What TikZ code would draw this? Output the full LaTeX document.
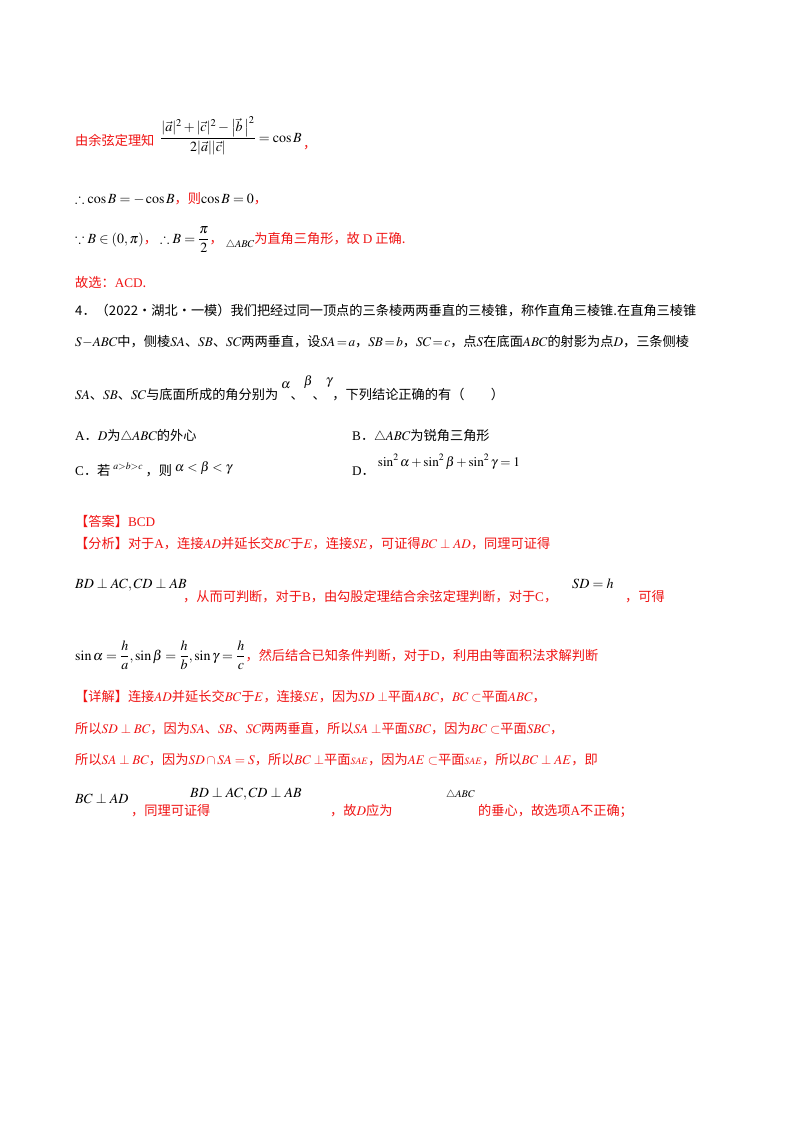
\documentclass[tikz,border=0pt]{standalone}
\usepackage{amsmath,amssymb}
\usepackage{mathptmx}
\usepackage[no-math]{fontspec}
\setmainfont{Noto Sans CJK SC}
\newfontfamily\tm{Liberation Serif}
\definecolor{rd}{RGB}{240,20,20}
\begin{document}
\begin{tikzpicture}[x=1pt,y=-1pt,
  t/.style={anchor=base west,inner sep=0pt,font=\fontsize{13.2}{16}\selectfont},
  r/.style={t,text=rd},
  s/.style={anchor=base west,inner sep=0pt,font=\fontsize{14}{17}\selectfont}]
\useasboundingbox[fill=white] (0,0) rectangle (800,1132);
\node[r] (l1) at (75,145) {由余弦定理知};
\node[s] (f1) at (160,142) {$\dfrac{|\vec a|^{2}+|\vec c|^{2}-\bigl|\vec b\,\bigr|^{2}}{2|\vec a||\vec c|}=\cos B$};
\node[r] (c1) at (303,148) {，};
\node[s] (l2) at (75,203) {$\therefore\cos B=-\cos B${\color{rd}\fontsize{13.2}{16}\selectfont，则}$\cos B=0${\color{rd}\fontsize{13.2}{16}\selectfont，}};
\node[s] (l3) at (75,243) {$\because B\in(0,\pi)${\color{rd}\fontsize{13.2}{16}\selectfont，}\ $\therefore B=\dfrac{\pi}{2}${\color{rd}\fontsize{13.2}{16}\selectfont，}\ \raisebox{-4pt}{$\scriptstyle\triangle ABC$}{\color{rd}\fontsize{13.2}{16}\selectfont 为直角三角形，故 {\tm D} 正确.}};
\node[r] (l4) at (75,287) {故选：{\tm ACD}.};
\node[t] (q1) at (75,315) {4．（2022·湖北·一模）我们把经过同一顶点的三条棱两两垂直的三棱锥，称作直角三棱锥.在直角三棱锥};
\node[t] (q2) at (75,346) {$S\!-\!ABC$中，侧棱$SA$、$SB$、$SC$两两垂直，设$SA\!=\!a$，$SB\!=\!b$，$SC\!=\!c$，点$S$在底面$ABC$的射影为点$D$，三条侧棱};
\node[t] (q3) at (75,399) {$SA$、$SB$、$SC$与底面所成的角分别为\ \raisebox{11pt}{$\alpha$}、\raisebox{14pt}{$\beta$}、\raisebox{15pt}{$\gamma$}，下列结论正确的有（　　）};
\node[t] (oA) at (75,440) {{\tm A}．$D$为$\triangle ABC$的外心};
\node[t] (oB) at (352,440) {{\tm B}．$\triangle ABC$为锐角三角形};
\node[t] (oC) at (75,475) {{\tm C}．若\ \raisebox{6pt}{$\scriptstyle a>b>c$}\ ，则\ \raisebox{4pt}{$\alpha<\beta<\gamma$}};
\node[t] (oD) at (352,475) {{\tm D}．\ \raisebox{9pt}{$\sin^2\alpha+\sin^2\beta+\sin^2\gamma=1$}};
\node[r] (ans) at (75,526) {【答案】{\tm BCD}};
\node[r] (an1) at (75,548) {【分析】对于{\tm A}，连接$AD$并延长交$BC$于$E$，连接$SE$，可证得$BC\perp AD$，同理可证得};
\node[s] (an2) at (75,588) {$BD\perp AC,CD\perp AB$};
\node[r] (an2b) at (183,601) {，从而可判断，对于{\tm B}，由勾股定理结合余弦定理判断，对于{\tm C}，};
\node[s] (an2c) at (572,588) {$SD=h$};
\node[r] (an2d) at (625,601) {，可得};
\node[s] (an3) at (75,660) {$\sin\alpha=\dfrac{h}{a},\sin\beta=\dfrac{h}{b},\sin\gamma=\dfrac{h}{c}${\color{rd}\fontsize{13.2}{16}\selectfont ，然后结合已知条件判断，对于{\tm D}，利用由等面积法求解判断}};
\node[r] (d1) at (75,701) {【详解】连接$AD$并延长交$BC$于$E$，连接$SE$，因为$SD\perp$平面$ABC$，$BC\subset$平面$ABC$，};
\node[r] (d2) at (75,733) {所以$SD\perp BC$，因为$SA$、$SB$、$SC$两两垂直，所以$SA\perp$平面$SBC$，因为$BC\subset$平面$SBC$，};
\node[r] (d3) at (75,764) {所以$SA\perp BC$，因为$SD\cap SA=S$，所以$BC\perp$平面$\scriptstyle SAE$，因为$AE\subset$平面$\scriptstyle SAE$，所以$BC\perp AE$，即};
\node[s] (d4) at (75,803) {$BC\perp AD$};
\node[r] (d4b) at (131,815) {，同理可证得};
\node[s] (d4c) at (190,797) {$BD\perp AC,CD\perp AB$};
\node[r] (d4d) at (330,815) {，故$D$应为};
\node[s] (d4e) at (446,797) {$\scriptstyle\triangle ABC$};
\node[r] (d4f) at (478,815) {的垂心，故选项{\tm A}不正确；};
\end{tikzpicture}
\end{document}
